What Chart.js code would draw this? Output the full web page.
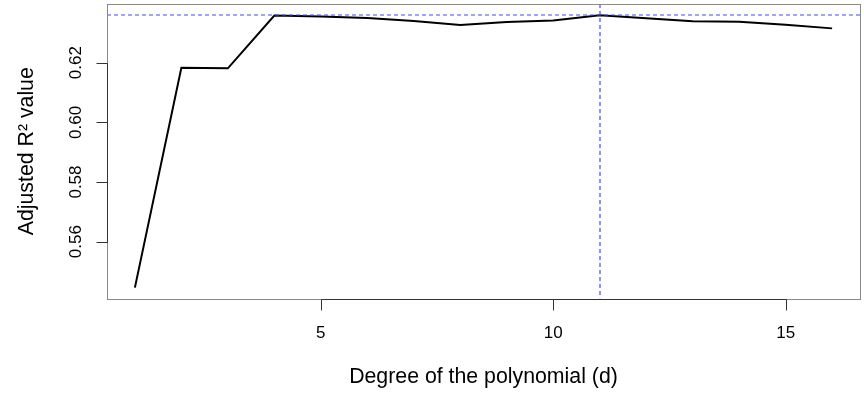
<!DOCTYPE html>
<html>
<head>
<meta charset="utf-8">
<script src="https://cdn.jsdelivr.net/npm/chart.js@4.4.1/dist/chart.umd.min.js"></script>
<style>
  html, body { margin: 0; padding: 0; background: #ffffff; }
  #wrap { width: 864px; height: 396px; }
</style>
</head>
<body>
<div id="wrap"><canvas id="c" width="864" height="396"></canvas></div>
<script>
// ---- Data ----
const degrees = [1, 2, 3, 4, 5, 6, 7, 8, 9, 10, 11, 12, 13, 14, 15, 16];
const adjR2 = [0.5446, 0.6183, 0.6181, 0.6358, 0.6355, 0.6350, 0.6340, 0.6326,
               0.6336, 0.6341, 0.6359, 0.6349, 0.6339, 0.6337, 0.6327, 0.6315];
const xTickValues = [5, 10, 15];
const xTickLabels = ['5', '10', '15'];
const yTickValues = [0.56, 0.58, 0.60, 0.62];
const yTickLabels = ['0.56', '0.58', '0.60', '0.62'];
const xTitle = 'Degree of the polynomial (d)';
const yTitle = 'Adjusted R\u00B2 value';

// best model (max adjusted R^2)
let bestIdx = 0;
adjR2.forEach((v, i) => { if (v > adjR2[bestIdx]) bestIdx = i; });
const bestDegree = degrees[bestIdx];
const bestValue = adjR2[bestIdx];

// R-style axis ranges (4% extension)
const xMin = 0.4, xMax = 16.6;
const yMin = 0.54096, yMax = 0.63967;

const FONT = '"Liberation Sans", Arial, Helvetica, sans-serif';

const rAxesPlugin = {
  id: 'rAxes',
  afterDatasetsDraw(chart) {
    const ctx = chart.ctx;
    const a = chart.chartArea;
    const xs = chart.scales.x, ys = chart.scales.y;
    ctx.save();
    ctx.beginPath();
    ctx.rect(a.left, a.top, a.right - a.left, a.bottom - a.top);
    ctx.clip();
    ctx.strokeStyle = '#4646ff';
    ctx.lineWidth = 1.2;
    ctx.setLineDash([4, 3]);
    const hy = Math.round(ys.getPixelForValue(bestValue));
    ctx.beginPath(); ctx.moveTo(a.left, hy); ctx.lineTo(a.right, hy); ctx.stroke();
    const vx = Math.round(xs.getPixelForValue(bestDegree));
    ctx.beginPath(); ctx.moveTo(vx, a.top); ctx.lineTo(vx, a.bottom); ctx.stroke();
    ctx.restore();
  },
  afterDraw(chart) {
    const ctx = chart.ctx;
    const a = chart.chartArea;
    const xs = chart.scales.x, ys = chart.scales.y;
    ctx.save();
    ctx.strokeStyle = '#8a8a8a';
    ctx.lineWidth = 1;
    ctx.strokeRect(Math.round(a.left) + 0.5, Math.round(a.top) + 0.5,
                   Math.round(a.right - a.left), Math.round(a.bottom - a.top));
    ctx.strokeStyle = '#333333';
    const by = Math.round(a.bottom) + 0.5;
    const lx = Math.round(a.left) + 0.5;
    const x0 = Math.round(xs.getPixelForValue(xTickValues[0])) + 0.5;
    const x1 = Math.round(xs.getPixelForValue(xTickValues[xTickValues.length - 1])) + 0.5;
    ctx.beginPath(); ctx.moveTo(x0, by); ctx.lineTo(x1, by); ctx.stroke();
    xTickValues.forEach(v => {
      const px = Math.round(xs.getPixelForValue(v)) + 0.5;
      ctx.beginPath(); ctx.moveTo(px, by); ctx.lineTo(px, by + 11); ctx.stroke();
    });
    const y0 = Math.round(ys.getPixelForValue(yTickValues[0])) + 0.5;
    const y1 = Math.round(ys.getPixelForValue(yTickValues[yTickValues.length - 1])) + 0.5;
    ctx.beginPath(); ctx.moveTo(lx, y0); ctx.lineTo(lx, y1); ctx.stroke();
    yTickValues.forEach(v => {
      const py = Math.round(ys.getPixelForValue(v)) + 0.5;
      ctx.beginPath(); ctx.moveTo(lx, py); ctx.lineTo(lx - 11, py); ctx.stroke();
    });
    ctx.fillStyle = '#000000';
    ctx.font = '17px ' + FONT;
    ctx.textAlign = 'center';
    ctx.textBaseline = 'alphabetic';
    xTickValues.forEach((v, i) => {
      ctx.fillText(xTickLabels[i], xs.getPixelForValue(v), 337.5);
    });
    yTickValues.forEach((v, i) => {
      ctx.save();
      ctx.translate(81, ys.getPixelForValue(v));
      ctx.rotate(-Math.PI / 2);
      ctx.fillText(yTickLabels[i], 0, 0);
      ctx.restore();
    });
    ctx.font = '21.3px ' + FONT;
    ctx.fillText(xTitle, (a.left + a.right) / 2, 382.7);
    ctx.save();
    ctx.translate(33, (a.top + a.bottom) / 2);
    ctx.rotate(-Math.PI / 2);
    ctx.fillText(yTitle, 0, 0);
    ctx.restore();
    ctx.restore();
  }
};

new Chart(document.getElementById('c'), {
  type: 'line',
  data: {
    datasets: [{
      data: degrees.map((d, i) => ({ x: d, y: adjR2[i] })),
      borderColor: '#000000',
      borderWidth: 2,
      pointRadius: 0,
      tension: 0,
      fill: false
    }]
  },
  options: {
    responsive: false,
    animation: false,
    devicePixelRatio: 1,
    layout: { padding: { top: 4, right: 4, left: 0, bottom: 0 } },
    plugins: { legend: { display: false }, tooltip: { enabled: false } },
    scales: {
      x: {
        type: 'linear', min: xMin, max: xMax,
        grid: { display: false }, border: { display: false },
        ticks: { display: false },
        afterBuildTicks: s => { s.ticks = xTickValues.map(v => ({ value: v })); },
        afterFit: s => { s.height = 97.5; }
      },
      y: {
        type: 'linear', min: yMin, max: yMax,
        grid: { display: false }, border: { display: false },
        ticks: { display: false },
        afterBuildTicks: s => { s.ticks = yTickValues.map(v => ({ value: v })); },
        afterFit: s => { s.width = 107; }
      }
    }
  },
  plugins: [rAxesPlugin]
});
</script>
</body>
</html>
